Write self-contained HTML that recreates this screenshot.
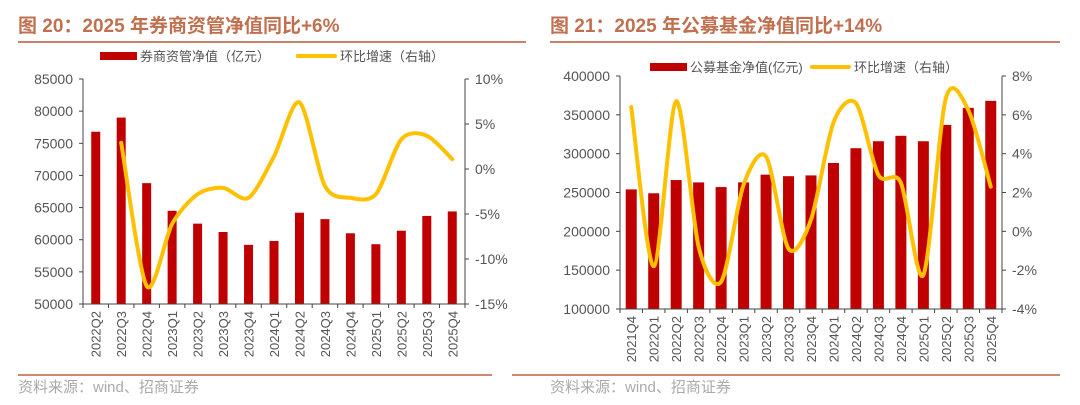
<!DOCTYPE html>
<html><head><meta charset="utf-8"><style>
body{margin:0;background:#fff;width:1080px;height:405px;overflow:hidden}
svg{display:block;font-family:"Liberation Sans","Noto Sans CJK SC",sans-serif}
</style></head><body>
<svg id="s" width="1080" height="405">
<g><text x="18" y="32" font-size="19" font-weight="bold" fill="#c0704f">图 20：2025 年券商资管净值同比+6%</text><line x1="18" y1="42" x2="526" y2="42" stroke="#c8826a" stroke-width="2"/></g>
<g><text x="550" y="32" font-size="19" font-weight="bold" fill="#c0704f">图 21：2025 年公募基金净值同比+14%</text><line x1="550" y1="42" x2="1060" y2="42" stroke="#c8826a" stroke-width="2"/></g>
<g><line x1="18" y1="375" x2="492" y2="375" stroke="#d08870" stroke-width="2"/><text x="18" y="392" font-size="15" fill="#aaa">资料来源：wind、招商证券</text></g>
<g><line x1="512" y1="375" x2="1060" y2="375" stroke="#d08870" stroke-width="2"/><text x="550" y="392" font-size="15" fill="#aaa">资料来源：wind、招商证券</text></g>
<g id="c1"></g><g id="c2"></g>
</svg>
<script>
const cats1=["2022Q2","2022Q3","2022Q4","2023Q1","2023Q2","2023Q3","2023Q4","2024Q1","2024Q2","2024Q3","2024Q4","2025Q1","2025Q2","2025Q3","2025Q4"];
const bars1=[76800,79000,68800,64500,62500,61200,59200,59800,64200,63200,61000,59300,61400,63700,64400];
const line1=[null,2.9,-13,-6.1,-2.8,-2.1,-3.2,1.4,7.4,-1.9,-3.2,-2.8,3.3,3.7,1.1];
const lticks1=[50000,55000,60000,65000,70000,75000,80000,85000];
const rticks1=[-15,-10,-5,0,5,10];
const cats2=["2021Q4","2022Q1","2022Q2","2022Q3","2022Q4","2023Q1","2023Q2","2023Q3","2023Q4","2024Q1","2024Q2","2024Q3","2024Q4","2025Q1","2025Q2","2025Q3","2025Q4"];
const bars2=[254000,249000,266000,263000,257000,263000,273000,271000,272000,288000,307000,316000,323000,316000,337000,359000,368000];
const line2=[6.4,-1.8,6.7,-0.8,-2.6,2.4,3.85,-0.9,0.6,5.6,6.6,2.9,2.5,-2.25,6.85,6.25,2.3];
const lticks2=[100000,150000,200000,250000,300000,350000,400000];
const rticks2=[-4,-2,0,2,4,6,8];
const NS="http://www.w3.org/2000/svg";
function mk(p,t,a){const e=document.createElementNS(NS,t);for(const k in a)e.setAttribute(k,a[k]);p.appendChild(e);return e;}
function chart(g,o,cats,bars,line,lt,rt,bw,leg){
 const bw0=(o.x2-o.x1)/cats.length;
 const xs=i=>o.x1+bw0*(i+0.5);
 const yl=v=>o.yb-(v-lt[0])/(lt[lt.length-1]-lt[0])*(o.yb-o.yt);
 const yr=v=>o.yb-(v-rt[0])/(rt[rt.length-1]-rt[0])*(o.yb-o.yt);
 bars.forEach((v,i)=>{const r=mk(g,'rect',{x:xs(i)-bw/2,y:yl(v),width:bw,height:o.yb-yl(v),fill:'#c00000'});
  
  });
 const ax=mk(g,'g',{stroke:'#444','stroke-width':1});
 
 
 mk(ax,'line',{x1:o.x1,y1:o.yt,x2:o.x1,y2:o.yb});
 mk(ax,'line',{x1:o.x2,y1:o.yt,x2:o.x2,y2:o.yb});
 mk(ax,'line',{x1:o.x1-4,y1:o.yb,x2:o.x2+4,y2:o.yb});
 lt.forEach(v=>{mk(ax,'line',{x1:o.x1-4,y1:yl(v),x2:o.x1,y2:yl(v)});
  const t=mk(g,'text',{x:o.x1-10,y:yl(v)+5,'text-anchor':'end','font-size':14,fill:'#555'});t.textContent=v;
  
  });
 rt.forEach(v=>{mk(ax,'line',{x1:o.x2,y1:yr(v),x2:o.x2+4,y2:yr(v)});
  const t=mk(g,'text',{x:o.x2+10,y:yr(v)+5,'font-size':14,fill:'#555'});t.textContent=v+'%';
  
  });
 for(let i=0;i<=cats.length;i++)mk(ax,'line',{x1:o.x1+bw0*i,y1:o.yb,x2:o.x1+bw0*i,y2:o.yb+4});
 cats.forEach((c,i)=>{const t=mk(g,'text',{transform:`translate(${xs(i)+5},${o.yb+7}) rotate(-90)`,'text-anchor':'end','font-size':13,fill:'#555'});t.textContent=c;
  
  });
 const pts=[];line.forEach((v,i)=>{if(v!==null)pts.push([xs(i),yr(v)]);});
 let d='M'+pts[0][0]+','+pts[0][1];
 const k=7;
 for(let i=0;i<pts.length-1;i++){const p0=pts[i-1]||pts[i],p1=pts[i],p2=pts[i+1],p3=pts[i+2]||p2;
  d+=` C${p1[0]+(p2[0]-p0[0])/k},${p1[1]+(p2[1]-p0[1])/k} ${p2[0]-(p3[0]-p1[0])/k},${p2[1]-(p3[1]-p1[1])/k} ${p2[0]},${p2[1]}`;}
 const pl=mk(g,'path',{d:d,fill:'none',stroke:'#ffc000','stroke-width':4,'stroke-linecap':'round'});
 
 
 const lg=mk(g,'g',{});
 
 
 mk(lg,'rect',{x:leg.x,y:leg.y-6,width:37,height:8,fill:'#c00000'});
 let t=mk(lg,'text',{x:leg.x+40,y:leg.y+3,'font-size':13,fill:'#555'});t.textContent=leg.a;
 mk(lg,'line',{x1:leg.x2,y1:leg.y-2,x2:leg.x2+37,y2:leg.y-2,stroke:'#ffc000','stroke-width':4,'stroke-linecap':'round'});
 t=mk(lg,'text',{x:leg.x2+42,y:leg.y+3,'font-size':13,fill:'#555'});t.textContent=leg.b;
}
chart(document.getElementById('c1'),{x1:83,x2:465,yt:79,yb:304},cats1,bars1,line1,lticks1,rticks1,9,{x:100,y:58,a:'券商资管净值（亿元）',x2:298,b:'环比增速（右轴）'});
chart(document.getElementById('c2'),{x1:620,x2:1002,yt:76,yb:309},cats2,bars2,line2,lticks2,rticks2,11,{x:650,y:69,a:'公募基金净值(亿元)',x2:812,b:'环比增速（右轴）'});
</script>
</body></html>
